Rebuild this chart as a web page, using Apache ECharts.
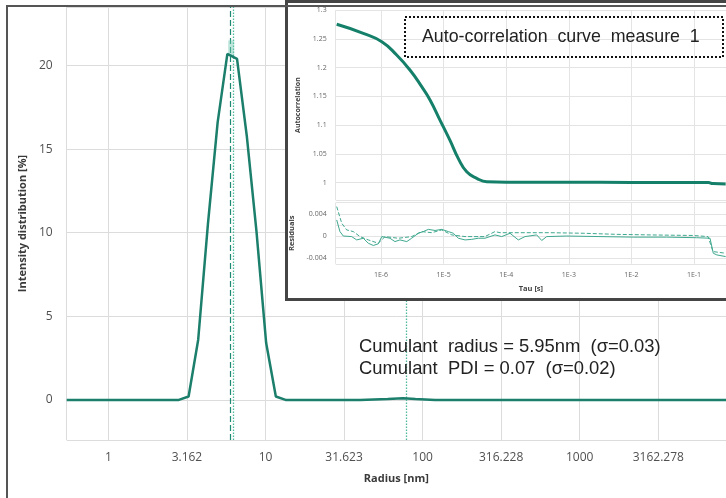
<!DOCTYPE html>
<html>
<head>
<meta charset="utf-8">
<script src="https://cdn.jsdelivr.net/npm/echarts@6/dist/echarts.min.js"></script>
<style>html,body{margin:0;padding:0;background:#fff;}#c{width:726px;height:498px;}</style>
</head>
<body>
<div id="c"></div>
<script>
// ---- Main chart: intensity distribution ----
const radius    = [0.543, 2.81, 3.24, 3.73, 4.30, 4.96, 5.72, 6.59, 7.60, 8.76, 10.10, 11.64, 13.42, 40, 60, 75, 90, 120, 8530];
const intensity = [0,     0,    0.2,  3.6,  10.5, 16.6, 20.7, 20.4, 15.8, 10.1, 3.4,   0.2,   0,     0,  0.05, 0.1, 0.05, 0, 0];
const errRadius = [6.05, 6.05];
const errValue  = [20.6, 21.5];
const markerDashed = [5.95];
const markerDotted = [6.25, 79.2];
const radiusTicks = ['1', '3.162', '10', '31.623', '100', '316.228', '1000', '3162.278'];
const intensityTicks = [0, 5, 10, 15, 20];

// ---- Inset: autocorrelation ----
const tau  = [1.96e-7, 5.21e-7, 1.03e-6, 1.78e-6, 2.90e-6, 4.47e-6, 6.07e-6, 8.75e-6, 1.26e-5, 1.72e-5, 2.34e-5, 3.38e-5, 4.88e-5, 1.15e-4, 1e-3, 1e-2, 0.1, 0.17, 0.2, 0.32];
const gCorr = [1.2755, 1.2598, 1.2452, 1.222, 1.196, 1.167, 1.144, 1.109, 1.074, 1.042, 1.019, 1.0077, 1.0017, 1.001, 1.0008, 1.0006, 1.0004, 1.0003, 0.9985, 0.998];

// residuals (solid)
const tauResA = [1.96e-7, 2.21e-7, 2.50e-7, 3.40e-7, 4.09e-7, 5.21e-7, 6.27e-7, 7.53e-7, 9.05e-7, 1.03e-6, 1.39e-6, 1.67e-6, 2.01e-6, 2.58e-6, 3.09e-6, 3.94e-6, 4.74e-6, 5.70e-6, 7.30e-6, 9.33e-6, 1.19e-5, 1.43e-5, 1.72e-5, 2.20e-5, 2.81e-5, 3.58e-5, 4.58e-5, 6.62e-5, 8.47e-5, 1.15e-4, 1.56e-4, 2.00e-4, 3.07e-4, 3.69e-4, 4.44e-4, 9.25e-4, 3.15e-3, 1.07e-2, 3.66e-2, 0.110, 0.180, 0.203, 0.231, 0.32];
const resA    = [0.0029, 0.0008, 0, -0.0001, -0.0007, -0.0004, -0.0013, -0.0017, -0.0014, -0.0001, -0.0004, -0.001, -0.0007, -0.001, -0.0004, 0.0005, 0.0008, 0.0012, 0.0010, 0.0012, 0.0008, 0.0005, -0.0004, -0.0007, -0.0006, -0.0004, -0.0004, 0.0002, -0.0001, 0.0005, -0.0007, -0.0001, 0.0002, -0.0008, -0.0001, 0, -0.0001, -0.0002, -0.0002, -0.0003, -0.0004, -0.0031, -0.0034, -0.0037];
// residuals (dashed)
const tauResB = [1.96e-7, 2.36e-7, 2.83e-7, 3.61e-7, 4.62e-7, 6.27e-7, 9.05e-7, 1.16e-6, 1.89e-6, 3.09e-6, 4.47e-6, 6.46e-6, 9.33e-6, 1.35e-5, 2.20e-5, 4.58e-5, 6.62e-5, 7.96e-5, 1.66e-4, 5.01e-4, 1.69e-3, 5.89e-3, 1.98e-2, 0.0964, 0.1675, 0.201, 0.32];
const resB    = [0.0053, 0.0023, 0.0011, 0.0008, -0.0001, -0.0007, -0.0013, -0.0001, -0.0004, -0.0001, 0.0008, 0.0006, 0.0011, 0.0002, -0.0001, -0.0001, 0.0008, 0.0006, 0.0006, 0.0006, 0.0005, 0.0003, 0.0002, 0.0001, -0.0001, -0.0028, -0.0031];
const tauTicks = ['1E-6', '1E-5', '1E-4', '1E-3', '1E-2', '1E-1'];

const zip = (a, b) => a.map((v, i) => [v, b[i]]);

const chart = echarts.init(document.getElementById('c'), null, {renderer: 'canvas'});

const FONT = '"Open Sans", "Noto Sans", sans-serif';
const teal = '#1b7f6c';
const lightTeal = '#3fa88f';

function halfDecadeLabel(v) {
  const l = Math.log10(v) * 2;
  if (Math.abs(l - Math.round(l)) > 1e-6) return '';
  const s = String(Math.round(v * 1000) / 1000);
  return radiusTicks.indexOf(s) >= 0 ? s : '';
}
function decadeLabel(v) {
  const l = Math.log10(v);
  if (Math.abs(l - Math.round(l)) > 1e-6) return '';
  const s = '1E' + Math.round(l);
  return tauTicks.indexOf(s) >= 0 ? s : '';
}

const option = {
  animation: false,
  backgroundColor: '#fff',
  grid: [
    {left: 66.7, right: 0, top: 7, bottom: 58},
    {left: 335.7, right: 0, top: 10.2, bottom: 298},
    {left: 335.7, right: 0, top: 202.7, bottom: 234.2}
  ],
  xAxis: [
    {
      gridIndex: 0, type: 'log', logBase: Math.sqrt(10), min: 0.543, max: 8530, splitNumber: 8,
      axisLine: {show: false}, axisTick: {show: false},
      splitLine: {show: true, lineStyle: {color: '#dcdcdc', width: 1}},
      axisLabel: {show: true, color: '#505050', fontSize: 12, fontFamily: FONT, margin: 12, formatter: halfDecadeLabel, showMinLabel: false, showMaxLabel: false},
      name: 'Radius [nm]', nameLocation: 'middle', nameGap: 33,
      nameTextStyle: {color: '#3a3a3a', fontSize: 11, fontWeight: 'bold', fontFamily: FONT}
    },
    {
      gridIndex: 1, type: 'log', logBase: 10, min: 1.89e-7, max: 0.324, splitNumber: 6, z: 60,
      axisLine: {show: false}, axisTick: {show: false}, axisLabel: {show: false},
      splitLine: {show: true, lineStyle: {color: '#e4e4e4', width: 1}}
    },
    {
      gridIndex: 2, type: 'log', logBase: 10, min: 1.89e-7, max: 0.324, splitNumber: 6, z: 60,
      axisLine: {show: false}, axisTick: {show: false},
      splitLine: {show: true, lineStyle: {color: '#e4e4e4', width: 1}},
      axisLabel: {show: true, color: '#666', fontSize: 7, fontFamily: FONT, margin: 8, formatter: decadeLabel, showMinLabel: false, showMaxLabel: false},
      name: 'Tau [s]', nameLocation: 'middle', nameGap: 21,
      nameTextStyle: {color: '#444', fontSize: 7.5, fontWeight: 'bold', fontFamily: FONT}
    }
  ],
  yAxis: [
    {
      gridIndex: 0, type: 'value', min: -2.4, max: 23.5, splitNumber: 5,
      axisLine: {show: false}, axisTick: {show: false},
      splitLine: {show: true, lineStyle: {color: '#dcdcdc', width: 1}},
      axisLabel: {show: true, color: '#505050', fontSize: 12, fontFamily: FONT, margin: 14,
        formatter: v => (intensityTicks.indexOf(Math.round(v * 1000) / 1000) >= 0 ? String(Math.round(v)) : '')},
      name: 'Intensity distribution [%]', nameLocation: 'middle', nameGap: 36,
      nameTextStyle: {color: '#3a3a3a', fontSize: 11, fontWeight: 'bold', fontFamily: FONT}
    },
    {
      gridIndex: 1, type: 'value', min: 0.97, max: 1.3, splitNumber: 7, z: 60,
      axisLine: {show: false}, axisTick: {show: false},
      splitLine: {show: true, lineStyle: {color: '#e4e4e4', width: 1}},
      axisLabel: {show: true, color: '#666', fontSize: 7, fontFamily: FONT, margin: 9,
        formatter: v => (v < 0.999 ? '' : String(Math.round(v * 100) / 100))},
      name: 'Autocorrelation', nameLocation: 'middle', nameGap: 34,
      nameTextStyle: {color: '#444', fontSize: 7, fontWeight: 'bold', fontFamily: FONT}
    },
    {
      gridIndex: 2, type: 'value', min: -0.005, max: 0.006, splitNumber: 5, z: 60,
      axisLine: {show: false}, axisTick: {show: false},
      splitLine: {show: true, lineStyle: {color: '#e4e4e4', width: 1}},
      axisLabel: {show: true, color: '#666', fontSize: 7, fontFamily: FONT, margin: 9,
        formatter: v => {
          const r = Math.round(v * 10000) / 10000;
          return (r === 0.004 || r === 0 || r === -0.004) ? String(r) : '';
        }},
      name: 'Residuals', nameLocation: 'middle', nameGap: 34,
      nameTextStyle: {color: '#444', fontSize: 7.5, fontWeight: 'bold', fontFamily: FONT}
    }
  ],
  series: [
    {
      type: 'line', xAxisIndex: 0, yAxisIndex: 0, z: 5, silent: true,
      data: zip(errRadius, errValue), showSymbol: false,
      lineStyle: {color: 'rgba(110,200,175,0.45)', width: 6}
    },
    {
      type: 'line', xAxisIndex: 0, yAxisIndex: 0, z: 6,
      data: zip(radius, intensity), showSymbol: false,
      lineStyle: {color: teal, width: 2.5},
      markLine: {
        silent: true, symbol: ['none', 'none'], label: {show: false},
        data: [
          ...markerDashed.map(v => ({xAxis: v, lineStyle: {color: '#1e8a74', width: 1.2, type: [6, 3]}})),
          ...markerDotted.map(v => ({xAxis: v, lineStyle: {color: '#4fb89e', width: 1.3, type: [1.5, 1.5]}}))
        ]
      }
    },
    {
      type: 'line', xAxisIndex: 1, yAxisIndex: 1, z: 62,
      data: zip(tau, gCorr), showSymbol: false, smooth: 0.5,
      lineStyle: {color: '#15806a', width: 3},
      markLine: {
        silent: true, symbol: ['none', 'none'], label: {show: false},
        data: [{yAxis: 1, lineStyle: {color: '#8c8c8c', width: 2, type: 'solid'}}]
      }
    },
    {
      type: 'line', xAxisIndex: 2, yAxisIndex: 2, z: 62,
      data: zip(tauResA, resA), showSymbol: false,
      lineStyle: {color: lightTeal, width: 1},
      markLine: {
        silent: true, symbol: ['none', 'none'], label: {show: false},
        data: [{yAxis: 0, lineStyle: {color: '#333', width: 1, type: 'solid'}}]
      }
    },
    {
      type: 'line', xAxisIndex: 2, yAxisIndex: 2, z: 62,
      data: zip(tauResB, resB), showSymbol: false,
      lineStyle: {color: lightTeal, width: 1, type: [4, 2]}
    }
  ],
  graphic: {
    elements: [
      {type: 'polyline', z: 100, silent: true, shape: {points: [[7, 498], [7, 6], [726, 6]]}, style: {stroke: '#555', lineWidth: 2, fill: null}},
      {type: 'rect', z: 50, silent: true, shape: {x: 286.5, y: 1.5, width: 460, height: 298}, style: {fill: '#fff', stroke: '#454545', lineWidth: 3}},
      {type: 'rect', z: 70, silent: true, shape: {x: 405, y: 17, width: 318, height: 40}, style: {fill: null, stroke: '#111', lineWidth: 2, lineDash: [2, 2]}},
      {type: 'text', z: 70, silent: true, x: 422, y: 37, style: {text: 'Auto-correlation  curve  measure  1', font: '17.8px "Liberation Sans", Arial, sans-serif', fill: '#222', verticalAlign: 'middle'}},
      {type: 'text', z: 100, silent: true, x: 359, y: 347, style: {text: 'Cumulant  radius = 5.95nm  (σ=0.03)', font: '18.4px "Liberation Sans", Arial, sans-serif', fill: '#222', verticalAlign: 'middle'}},
      {type: 'text', z: 100, silent: true, x: 359, y: 369, style: {text: 'Cumulant  PDI = 0.07  (σ=0.02)', font: '18.4px "Liberation Sans", Arial, sans-serif', fill: '#222', verticalAlign: 'middle'}}
    ]
  }
};
chart.setOption(option);
</script>
</body>
</html>
